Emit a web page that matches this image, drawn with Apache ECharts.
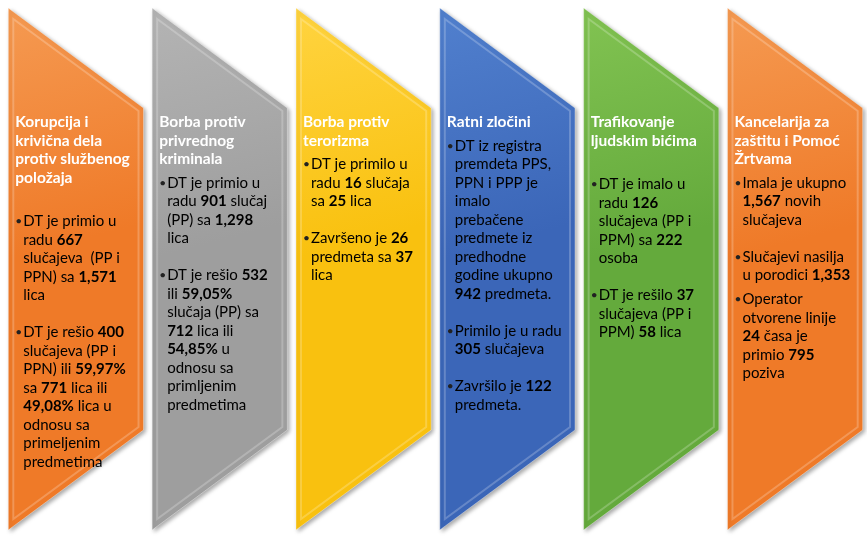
<!DOCTYPE html>
<html>
<head>
<meta charset="utf-8">
<script src="https://cdn.jsdelivr.net/npm/echarts@6/dist/echarts.min.js"></script>
<style>
html,body{margin:0;padding:0;background:#fff}
#main{width:867px;height:537px}
</style>
</head>
<body>
<div id="main"></div>
<script>
// naslovi panela (po redovima kao na slici)
const titles = [
  ['Korupcija i', 'krivična dela', 'protiv službenog', 'položaja'],
  ['Borba protiv', 'privrednog', 'kriminala'],
  ['Borba protiv', 'terorizma'],
  ['Ratni zločini'],
  ['Trafikovanje', 'ljudskim bićima'],
  ['Kancelarija za', 'zaštitu i Pomoć', 'Žrtvama']
]

// tacke po panelu, **broj** = bold, '' = prazan red
const korupcija = ['',
  ['DT je primio u', 'radu **667**', 'slučajeva  (PP i', 'PPN) sa **1,571**', 'lica'], '',
  ['DT je rešio **400**', 'slučajeva (PP i', 'PPN) ili **59,97%**', 'sa **771** lica ili', '**49,08%** lica u', 'odnosu sa', 'primeljenim', 'predmetima']]
const privredni = [
  ['DT je primio u', 'radu **901** slučaj', '(PP) sa **1,298**', 'lica'], '',
  ['DT je rešio **532**', 'ili **59,05%**', 'slučaja (PP) sa', '**712** lica ili', '**54,85%** u', 'odnosu sa', 'primljenim', 'predmetima']]
const terorizam = [
  ['DT je primilo u', 'radu **16** slučaja', 'sa **25** lica'], '',
  ['Završeno je **26**', 'predmeta sa **37**', 'lica']]
const ratniZlocini = [
  ['DT iz registra', 'premdeta PPS,', 'PPN i PPP je', 'imalo', 'prebačene', 'predmete iz', 'predhodne', 'godine ukupno', '**942** predmeta.'], '',
  ['Primilo je u radu', '**305** slučajeva'], '',
  ['Završilo je **122**', 'predmeta.']]
const trafikovanje = ['',
  ['DT je imalo u', 'radu **126**', 'slučajeva (PP i', 'PPM) sa **222**', 'osoba'], '',
  ['DT je rešilo **37**', 'slučajeva (PP i', 'PPM) **58** lica']]
const kancelarija = [
  ['Imala je ukupno', '**1,567** novih', 'slučajeva'], '',
  ['Slučajevi nasilja', 'u porodici **1,353**'],
  ['Operator', 'otvorene linije', '**24** časa je', 'primio **795**', 'poziva']]

const bullets = [korupcija, privredni, terorizam, ratniZlocini, trafikovanje, kancelarija]

const fills = [
  ['#F59A52', '#EF7A28'],
  ['#B4B4B4', '#9E9E9E'],
  ['#FFD440', '#F9C10F'],
  ['#5180CE', '#3B66B8'],
  ['#82C352', '#64AA3C'],
  ['#F59A52', '#EF7A28']
]

const FONT = 'Lato, "Open Sans", sans-serif'
const LINE = 18.5

function richLine(str){
  // "radu **667**" -> "{n|radu }{b|667}"
  return str.split('**').map((p, k) => p === '' ? '' : (k % 2 ? '{b|' + p + '}' : '{n|' + p + '}')).join('')
}

const rich = {
  n: {fontFamily: FONT, fontSize: 15, color: '#222'},
  b: {fontFamily: FONT, fontSize: 15, fontWeight: 'bold', color: '#1a1a1a'}
}

function renderItem(params, api){
  const i = api.value(0)
  const cx = api.coord([i, 0])[0]
  const yTop = api.coord([i, 1])[1]
  const yBot = api.coord([i, 0])[1]
  const w = api.size([1, 0])[0] * 0.94
  const L = cx - w / 2, R = cx + w / 2
  const slant = 100
  const pts = [[L, yTop], [R, yTop + slant], [R, yBot - slant], [L, yBot]]
  const inset = 5
  const inner = [[L + inset, yTop + inset * 2.2], [R - inset, yTop + slant + inset * 0.6], [R - inset, yBot - slant - inset * 0.6], [L + inset, yBot - inset * 2.2]]
  const children = [{
    type: 'polygon',
    shape: {points: pts},
    style: {
      fill: new echarts.graphic.LinearGradient(0, 0, 1, 1, [
        {offset: 0, color: fills[i][0]}, {offset: 0.45, color: fills[i][1]}, {offset: 1, color: fills[i][1]}
      ]),
      stroke: 'rgba(255,255,255,0.35)', lineWidth: 1,
      shadowBlur: 4, shadowOffsetX: 2, shadowOffsetY: 2, shadowColor: 'rgba(0,0,0,0.35)'
    }
  }, {
    type: 'polygon',
    shape: {points: inner},
    style: {fill: 'none', stroke: 'rgba(255,255,255,0.22)', lineWidth: 2}
  }]

  let y = yTop + 114
  const x0 = L + 7
  titles[i].forEach(t => {
    children.push({type: 'text', style: {x: x0, y: y, text: t, fontFamily: FONT, fontSize: 15.5, fontWeight: 'bold', fill: '#fff', verticalAlign: 'middle'}})
    y += LINE
  })
  y += 5.5
  bullets[i].forEach((par, k0) => {
    if (par === '') { y += k0 === 0 ? 20 : 13; return }
    par.forEach((ln, k) => {
      if (k === 0) {
        children.push({type: 'text', style: {x: x0, y: y, text: '•', fontFamily: FONT, fontSize: 12, fill: '#222', verticalAlign: 'middle'}})
      }
      children.push({type: 'text', style: {x: x0 + 8, y: y, text: richLine(ln), rich: rich, verticalAlign: 'middle'}})
      y += LINE
    })
    y += 5.5
  })
  return {type: 'group', children: children}
}

const chart = echarts.init(document.getElementById('main'))
chart.setOption({
  animation: false,
  grid: {left: 4, right: -12, top: 8, bottom: 7},
  xAxis: {type: 'category', data: titles.map(t => t.join(' ')), show: false},
  yAxis: {type: 'value', min: 0, max: 1, show: false},
  series: [{
    type: 'custom',
    renderItem: renderItem,
    clip: false,
    data: titles.map((t, i) => [i, 1])
  }]
})
</script>
</body>
</html>
